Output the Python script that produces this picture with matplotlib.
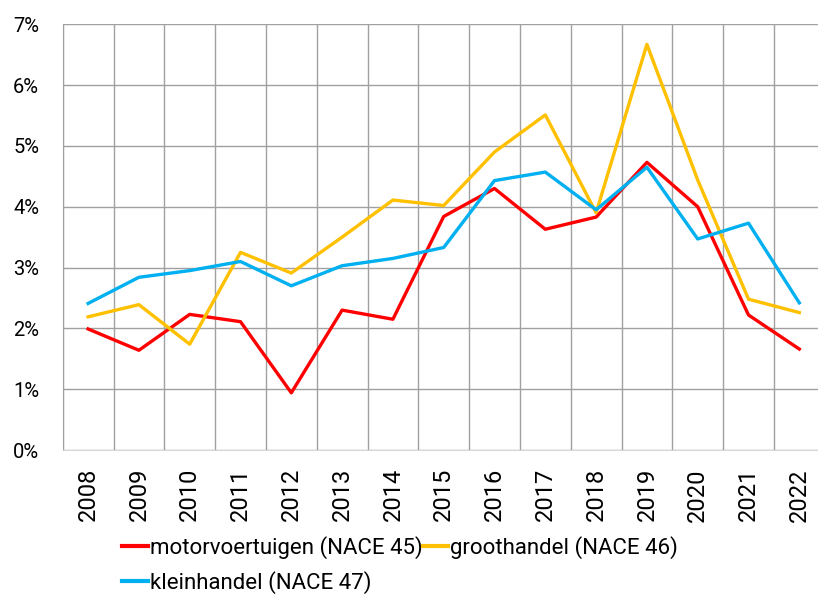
import numpy as np
import matplotlib.pyplot as plt
from matplotlib.ticker import FuncFormatter

# ---- DATA ----
years = [str(y) for y in range(2008, 2023)]

motorvoertuigen = [1.99, 1.64, 2.23, 2.11, 0.94, 2.30, 2.15, 3.84, 4.30, 3.63, 3.83, 4.73, 4.00, 2.22, 1.66]
groothandel = [2.19, 2.39, 1.74, 3.25, 2.91, 3.50, 4.11, 4.02, 4.90, 5.51, 3.90, 6.67, 4.44, 2.48, 2.26]
kleinhandel = [2.41, 2.84, 2.95, 3.10, 2.70, 3.03, 3.15, 3.33, 4.43, 4.57, 3.95, 4.65, 3.47, 3.73, 2.42]

series = [
    ("motorvoertuigen (NACE 45)", motorvoertuigen, "#FF0000"),
    ("groothandel (NACE 46)", groothandel, "#FFC000"),
    ("kleinhandel (NACE 47)", kleinhandel, "#00B0F0"),
]

plt.rcParams["font.family"] = ["Roboto", "DejaVu Sans"]

W, H = 818, 594
fig = plt.figure(figsize=(W / 100, H / 100), dpi=100)
left, right, top, bottom = 62.7, 62.7 + 15 * 50.8, 24.3, 450
ax = fig.add_axes([left / W, 1 - bottom / H, (right - left) / W, (bottom - top) / H])

x = np.arange(len(years))
lines = {}
for label, vals, color in series:
    lines[label], = ax.plot(x, vals, color=color, lw=2.4, label=label, zorder=3)

ax.set_xlim(-0.5, len(years) - 0.5)
ax.set_ylim(0, 7)
ax.set_yticks(range(0, 8))
ax.yaxis.set_major_formatter(FuncFormatter(lambda v, p: f"{int(v)}%"))
ax.set_xticks(x)
ax.set_xticklabels(years, rotation=90)

# vertical grid between categories, horizontal grid on major ticks
ax.set_xticks(np.arange(-0.5, len(years), 1), minor=True)
ax.grid(True, which="minor", axis="x", color="#a0a0a0", lw=1)
ax.grid(True, which="major", axis="y", color="#a0a0a0", lw=1)
ax.grid(False, which="major", axis="x")

ax.tick_params(axis="both", which="both", length=0, colors="#000000")
ax.tick_params(axis="y", pad=17, labelsize=14.5)
ax.tick_params(axis="x", pad=13, labelsize=17)

for s in ["top", "right"]:
    ax.spines[s].set_visible(False)
ax.spines["left"].set_color("#a0a0a0")
ax.spines["bottom"].set_color("#d9d9d9")

# legend fills column-wise, so order entries to get row-wise layout
order = [series[0][0], series[2][0], series[1][0]]
leg = fig.legend(
    [lines[k] for k in order], order,
    loc="upper left",
    bbox_to_anchor=(122 / W, 1 - 536 / H),
    ncol=2,
    frameon=False,
    handlelength=1.15,
    handletextpad=0.1,
    columnspacing=0.0,
    labelspacing=0.55,
    borderaxespad=0,
    borderpad=0,
    fontsize=16,
)
for line in leg.get_lines():
    line.set_linewidth(3)

fig.savefig("out.png", dpi=100)
